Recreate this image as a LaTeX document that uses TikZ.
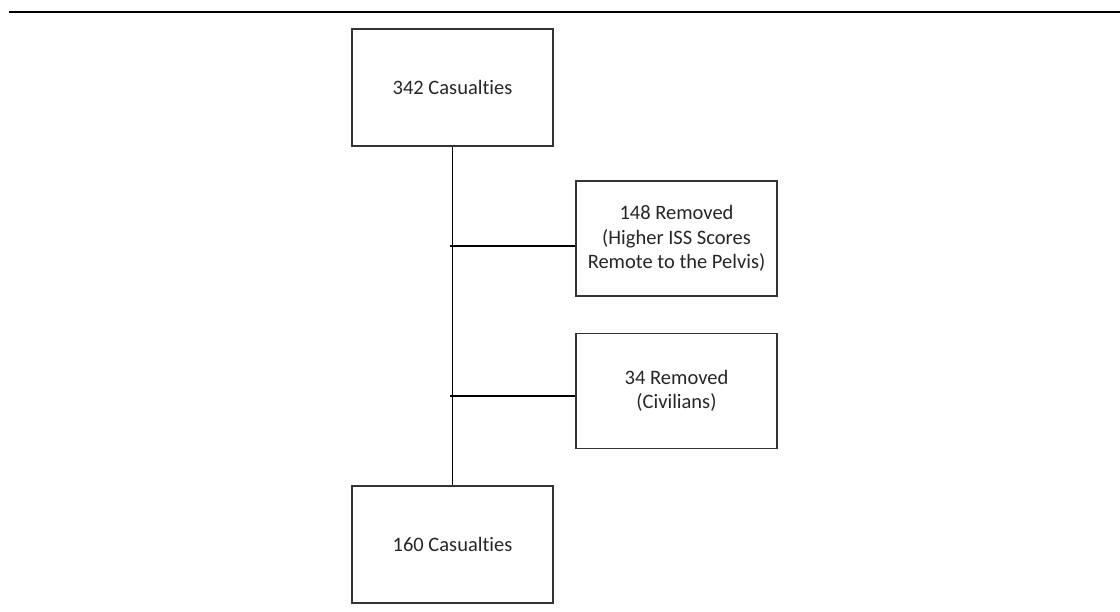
\documentclass[tikz,border=0pt]{standalone}
\usepackage{fontspec}
\setmainfont{Carlito}[Ligatures=NoCommon]

\begin{document}
\begin{tikzpicture}
[-,x=1pt,y=-1pt,line width=1.3pt,%
  every node/.style={shape=rectangle,draw=black!80,line width=1.3pt,inner sep=0pt,
    text=black!85,align=center,font=\fontsize{20.5}{24.4}\selectfont},%
  countbox/.style={minimum width=201pt,minimum height=117pt},%
  removedbox/.style={minimum width=201pt,minimum height=115pt}]
\useasboundingbox (0,0) rectangle (1120,612);
% top rule
\coordinate (ruleL) at (9,12);
\coordinate (ruleR) at (1120,12);
\draw[line width=2.2pt] (ruleL) -- (ruleR);
% boxes
\node[countbox] (total) at (452.5,87.5) {342 Casualties};
\node[removedbox] (iss) at (676.5,238.5) {148 Removed\\(Higher ISS Scores\\Remote to the Pelvis)};
\node[removedbox] (civ) at (676.5,391) {34 Removed\\(Civilians)};
\node[countbox] (final) at (452.5,544.5) {160 Casualties};
% connectors
\coordinate (splitA) at (450,246);
\coordinate (splitB) at (450,396);
\draw (total) -- (final);
\draw (splitA) -- (splitA -| iss.west);
\draw (splitB) -- (splitB -| civ.west);
\end{tikzpicture}
\end{document}
